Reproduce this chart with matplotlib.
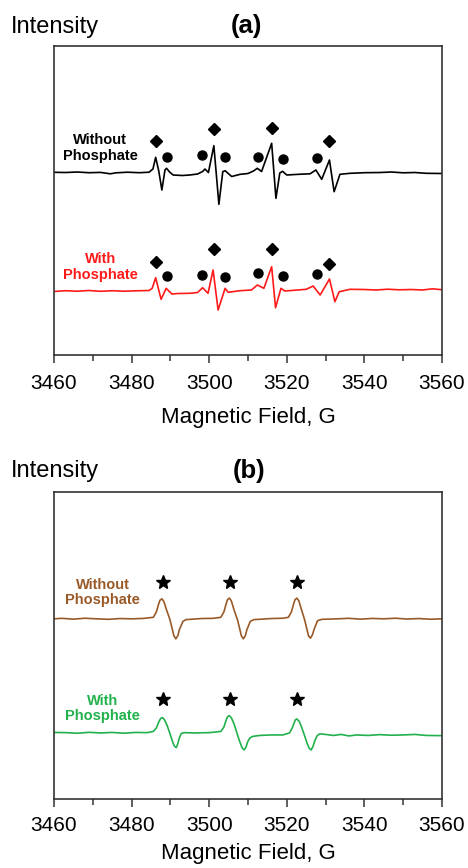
import numpy as np
import matplotlib
matplotlib.use('Agg')
import matplotlib.pyplot as plt
from matplotlib.ticker import MultipleLocator

plt.rcParams['font.family'] = ['Liberation Sans', 'DejaVu Sans']

# --- datos (campo en G, intensidad en u.a. relativa a la linea base) ---
# (a) sin fosfato
b_without_a = [3460, 3463, 3466, 3469, 3472, 3474.5, 3476, 3479, 3482, 3484.5,
               3485.5, 3486.2, 3487.0, 3487.8, 3488.6, 3489.0, 3489.8, 3490.7, 3493, 3495,
               3497, 3498.3, 3498.9, 3499.8, 3501.2, 3502.5, 3503.5, 3504.1, 3505.8, 3508,
               3510, 3511.4, 3512.4, 3513.5, 3516.1, 3517.2, 3518.2, 3518.9, 3520.0, 3523,
               3526.0, 3527.5, 3529.0, 3531.0, 3532.2, 3533.7, 3536.3, 3540, 3544, 3547,
               3550, 3553, 3556, 3560]
i_without_a = [0.7, 0.5, 1.0, 0.3, 0.6, -0.8, 0.2, 0.8, 0.3, 0.8,
               4, 15.7, 2, -17, 3, 4.7, 1.0, -2, -2.5, -2.0,
               -1.0, 1.5, 4.0, 0.5, 27.3, -31.3, 1.3, 2.3, -3.5, -1.3,
               -0.5, 2, 4.7, 1.5, 29.7, -25.3, 0, 1.7, -2, -1.3,
               -0.8, 3, -6.3, 13, -18.7, -1.3, -0.3, 0.3, 0.5, 1.0,
               0.2, 0.5, -0.3, -0.5]

# (a) con fosfato
b_with_a = [3460, 3463, 3466, 3469, 3472, 3475, 3478, 3481, 3484.5,
            3485.3, 3486.2, 3487.6, 3488.9, 3490.4, 3492, 3495, 3497, 3498.3, 3499.7,
            3501.0, 3502.3, 3504.1, 3504.9, 3507.9, 3510.9, 3512.4, 3514.1, 3516.1, 3517.1,
            3518.5, 3519.5, 3525, 3526.8, 3528.6, 3531.0, 3532.4, 3533.5, 3536.3, 3540,
            3543, 3546, 3549, 3552, 3555, 3557.5, 3560]
i_with_a = [-0.5, 0.3, -0.2, 0.5, -0.3, 0.3, -0.2, 0.2, 0.5,
            2.7, 13.3, -8.3, 2.7, -3, -2.5, -2.3, -1.5, 3.3, -2.3,
            21, -19, 2.7, -1.3, 0.3, 1, 6, 2.7, 24.3, -16.7,
            2.7, 0, 1.7, 5, -4, 12, -10.7, -0.7, 1.7, 1.5,
            1.0, 1.8, 1.2, 1.5, 1.0, 2.2, 1.3]

# marcadores (a)
diamond_b = [3486.2, 3501.2, 3516.1, 3531.0]
diamond_h_without = [32.3, 44, 44.7, 32.3]
diamond_h_with = [28.7, 41.7, 41.7, 26.7]
circle_b = [3489.2, 3498.2, 3504.1, 3512.7, 3518.9, 3527.7]
circle_h_without = [16.3, 17.7, 16.3, 16.3, 13.7, 14.7]
circle_h_with = [15.3, 16, 14, 18.3, 15.3, 17]

# (b) sin fosfato
b_without_b = [3460, 3462, 3465, 3468, 3471, 3474, 3477, 3480, 3483,
               3485.6, 3486.4, 3486.9, 3487.3, 3487.8, 3488.3, 3489.0, 3489.9, 3490.4, 3490.9,
               3491.4, 3491.9, 3492.3, 3493.2, 3494.0, 3498, 3501,
               3503.0, 3503.8, 3504.3, 3504.7, 3505.2, 3505.7, 3506.4, 3507.3, 3507.8, 3508.3,
               3508.8, 3509.3, 3509.7, 3510.6, 3511.5, 3516, 3519,
               3520.4, 3521.2, 3521.7, 3522.1, 3522.6, 3523.1, 3523.8, 3524.6, 3525.1, 3525.6,
               3526.1, 3526.6, 3527.0, 3527.9, 3529.0, 3533, 3536, 3539, 3542, 3545,
               3548, 3551, 3554, 3557, 3560]
i_without_b = [0, 0.5, -0.3, 0.6, 0, -0.5, 0.3, 0, 0.4,
               1.5, 7, 14, 18.5, 20, 17.5, 9, -1, -9, -17,
               -20, -17, -11, -2.7, -0.8, 0.3, 0.5,
               1.5, 7, 14, 19, 20.7, 18, 9, -1, -9, -17,
               -20, -17, -11, -2.5, -0.8, 0.3, 0.6,
               1.5, 7, 14, 19, 20.7, 18, 9, -1, -9, -17,
               -19.3, -16, -11, -2, -0.5, 0, 0.5, -0.3, 0.4, 0,
               0.6, -0.2, 0.3, -0.4, 0]

# (b) con fosfato
b_with_b = [3460, 3463, 3466, 3469, 3472, 3475, 3478, 3481, 3484,
            3485.6, 3486.4, 3487.0, 3487.5, 3488.0, 3488.5, 3489.2, 3490.0, 3490.5, 3491.0,
            3491.5, 3491.9, 3492.3, 3492.8, 3493.5, 3496, 3500,
            3503.0, 3503.8, 3504.3, 3504.7, 3505.2, 3505.8, 3506.5, 3507.3, 3507.9, 3508.5,
            3509.0, 3509.5, 3509.9, 3510.5, 3511.2, 3513, 3516, 3519,
            3520.7, 3521.4, 3521.9, 3522.2, 3522.6, 3523.2, 3523.8, 3524.7, 3525.2, 3525.8,
            3526.3, 3526.8, 3527.2, 3527.8, 3528.4, 3530, 3532, 3534, 3536, 3538,
            3541, 3544, 3547, 3550, 3553, 3556, 3560]
i_with_b = [0.5, 0.3, -0.3, 0.6, 0.0, 0.5, -0.3, 0.5, 0.3,
            1.5, 5, 11, 14.5, 15.3, 13, 7, -2, -8, -13,
            -14.7, -11, -5, -0.5, 0.3, 0, 0.3,
            1.5, 6, 12, 16, 17.3, 14.5, 8, -2, -9, -15,
            -17, -14, -9, -5, -3.5, -2.5, -2, -2,
            0, 5, 10, 13, 14, 11.5, 6, -4, -10, -15.5,
            -17, -13, -8, -3, -1, -1.5, -2.5, -1.5, -3, -2,
            -2.5, -1.7, -2.3, -2, -1.5, -2.5, -2.7]

star_b = [3488.0, 3505.3, 3522.6]
star_h_without = 37.3
star_h_with = 34

# desplazamientos verticales de cada espectro
off_a = [182, 64]
off_b = [180, 66]

brown = '#9A5A28'
green = '#22B14C'
red = '#FF1A1A'

fig = plt.figure(figsize=(4.68, 8.68), dpi=100)
ax1 = fig.add_axes([0.1154, 0.591, 0.829, 0.356])
ax2 = fig.add_axes([0.1154, 0.0795, 0.829, 0.354])

for ax, h, pad, lpad in [(ax1, 309, 7.5, 10), (ax2, 307, 6, 6)]:
    ax.set_xlim(3460, 3560)
    ax.set_ylim(0, h)
    ax.set_yticks([])
    ax.xaxis.set_major_locator(MultipleLocator(20))
    ax.xaxis.set_minor_locator(MultipleLocator(10))
    ax.tick_params(axis='x', which='major', length=6, width=1.1, labelsize=15, pad=pad,
                   colors='#333333', labelcolor='black')
    ax.tick_params(axis='x', which='minor', length=4, width=1.1, colors='#333333')
    for s in ax.spines.values():
        s.set_linewidth(1.2)
        s.set_color('#333333')
    ax.set_xlabel('Magnetic Field, G', fontsize=16, labelpad=lpad)

# panel (a)
ax1.plot(b_without_a, np.array(i_without_a) + off_a[0], color='black', lw=1.2)
ax1.plot(b_with_a, np.array(i_with_a) + off_a[1], color=red, lw=1.2)
ax1.plot(diamond_b, np.array(diamond_h_without) + off_a[0], 'kD', ms=6.3)
ax1.plot(diamond_b, np.array(diamond_h_with) + off_a[1], 'kD', ms=6.3)
ax1.plot(circle_b, np.array(circle_h_without) + off_a[0], 'ko', ms=6.5)
ax1.plot(circle_b, np.array(circle_h_with) + off_a[1], 'ko', ms=6.5)
ax1.text(3471.9, off_a[0] + 25, 'Without\nPhosphate', ha='center', va='center',
         fontsize=10.5, fontweight='bold', color='black', linespacing=1.1)
ax1.text(3471.9, off_a[1] + 24, 'With\nPhosphate', ha='center', va='center',
         fontsize=10.5, fontweight='bold', color=red, linespacing=1.1)

# panel (b)
ax2.plot(b_without_b, np.array(i_without_b) + off_b[0], color=brown, lw=1.2)
ax2.plot(b_with_b, np.array(i_with_b) + off_b[1], color=green, lw=1.2)
ax2.plot(star_b, [star_h_without + off_b[0]] * 3, 'k*', ms=10)
ax2.plot(star_b, [star_h_with + off_b[1]] * 3, 'k*', ms=10)
ax2.text(3472.5, off_b[0] + 26, 'Without\nPhosphate', ha='center', va='center',
         fontsize=10.5, fontweight='bold', color=brown, linespacing=1.1)
ax2.text(3472.5, off_b[1] + 24, 'With\nPhosphate', ha='center', va='center',
         fontsize=10.5, fontweight='bold', color=green, linespacing=1.1)

# titulos
fig.text(11 / 468, 1 - 26.5 / 868, 'Intensity', fontsize=17, ha='left', va='center')
fig.text(246.5 / 468, 1 - 26 / 868, '(a)', fontsize=18.5, fontweight='bold', ha='center', va='center')
fig.text(11 / 468, 1 - 471 / 868, 'Intensity', fontsize=17, ha='left', va='center')
fig.text(249 / 468, 1 - 471 / 868, '(b)', fontsize=18.5, fontweight='bold', ha='center', va='center')

fig.savefig('out.png', dpi=100)
